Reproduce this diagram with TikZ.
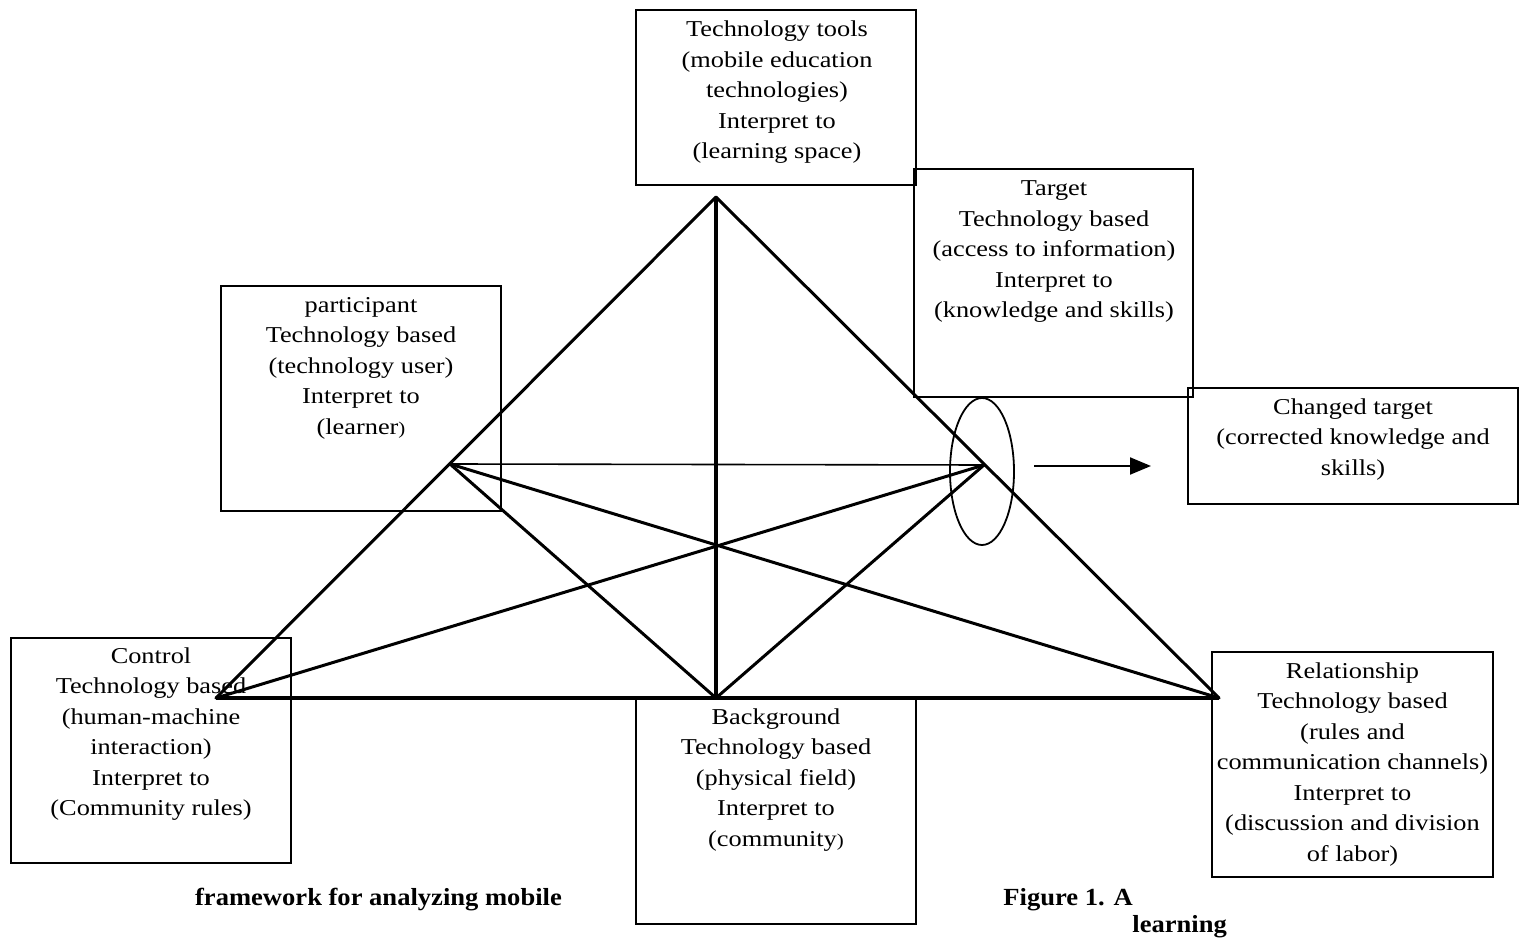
\documentclass[tikz,border=0pt]{standalone}
\usepackage{fontspec}
\setmainfont{Liberation Serif}[FakeStretch=1.16]
\newfontfamily\capfont{Liberation Serif}[FakeStretch=1.08]
\usetikzlibrary{fit,shapes.geometric,arrows.meta}
\newcommand{\smp}{{\fontsize{9}{10}\selectfont )}}
\begin{document}
\begin{tikzpicture}[x=0.5pt,y=-0.5pt,
  box/.style={draw, line width=1pt, inner sep=0pt},
  txt/.style={align=center, inner sep=0pt, anchor=north, font=\fontsize{11.35}{15.25}\selectfont},
  captext/.style={inner sep=0pt, font=\capfont\bfseries\fontsize{12.3}{14}\selectfont},
  side/.style={line width=1.5pt, line cap=round, line join=round},
  thinline/.style={line width=0.8pt}]
\useasboundingbox (0,0) rectangle (1526,940);
\fill[white] (0,0) rectangle (1526,940);
% boxes
\node[box, fit={(636,10) (916,185)}] (tools) {};
\node[box, fit={(914,169) (1193,397)}] (target) {};
\node[box, fit={(221,286) (501,511)}] (part) {};
\node[box, fit={(1188,388) (1518,504)}] (changed) {};
\node[box, fit={(11,638) (291,863)}] (control) {};
\node[box, fit={(636,698) (916,924)}] (backg) {};
\node[box, fit={(1212,652) (1493,877)}] (relat) {};
% texts
\node[txt] (toolsT) at (777,15) {\strut Technology tools\\(mobile education\\technologies)\\Interpret to\\(learning space)};
\node[txt] (targetT) at (1054,174) {\strut Target\\Technology based\\(access to information)\\Interpret to\\(knowledge and skills)};
\node[txt] (partT) at (361,290.5) {\strut participant\\Technology based\\(technology user)\\Interpret to\\(learner\smp};
\node[txt] (changedT) at (1353,392.5) {\strut Changed target\\(corrected knowledge and\\skills)};
\node[txt] (controlT) at (151,641.5) {\strut Control\\Technology based\\(human-machine\\interaction)\\Interpret to\\(Community rules)};
\node[txt] (backgT) at (776,702.5) {\strut Background\\Technology based\\(physical field)\\Interpret to\\(community\smp};
\node[txt] (relatT) at (1352.5,656.5) {\strut Relationship\\Technology based\\(rules and\\communication channels)\\Interpret to\\(discussion and division\\of labor)};
% vertices
\coordinate (apex) at (716,197);
\coordinate (lv) at (216,698);
\coordinate (rv) at (1219,698);
\coordinate (bc) at (716,698);
\coordinate (pp) at (450,464);
\coordinate (rp) at (984,465);
% lines
\draw[side] (lv) -- (apex) -- (rv);
\draw[line width=2.2pt] (lv) -- (rv);
\draw[line width=1.6pt] (apex) -- (bc);
\draw[thinline] (pp) -- (rp);
\draw[side] (pp) -- (rv);
\draw[side] (pp) -- (bc);
\draw[side] (lv) -- (rp);
\draw[side] (bc) -- (rp);
% oval and arrow
\node[draw, ellipse, line width=0.9pt, inner sep=0pt, minimum width=32pt, minimum height=73.5pt] (oval) at (982,471.5) {};
\coordinate (a1) at (1034,466);
\coordinate (a2) at (1151,466);
\draw[line width=1pt, -{Triangle[length=10.5pt,width=8.5pt]}] (a1) -- (a2);
% caption
\node[captext, anchor=base] (cap1) at (378.5,905) {framework for analyzing mobile};
\node[captext, anchor=base west] (cap2) at (1003,905) {Figure 1. A};
\node[captext, anchor=base west] (cap3) at (1132,932) {learning};
\end{tikzpicture}
\end{document}
